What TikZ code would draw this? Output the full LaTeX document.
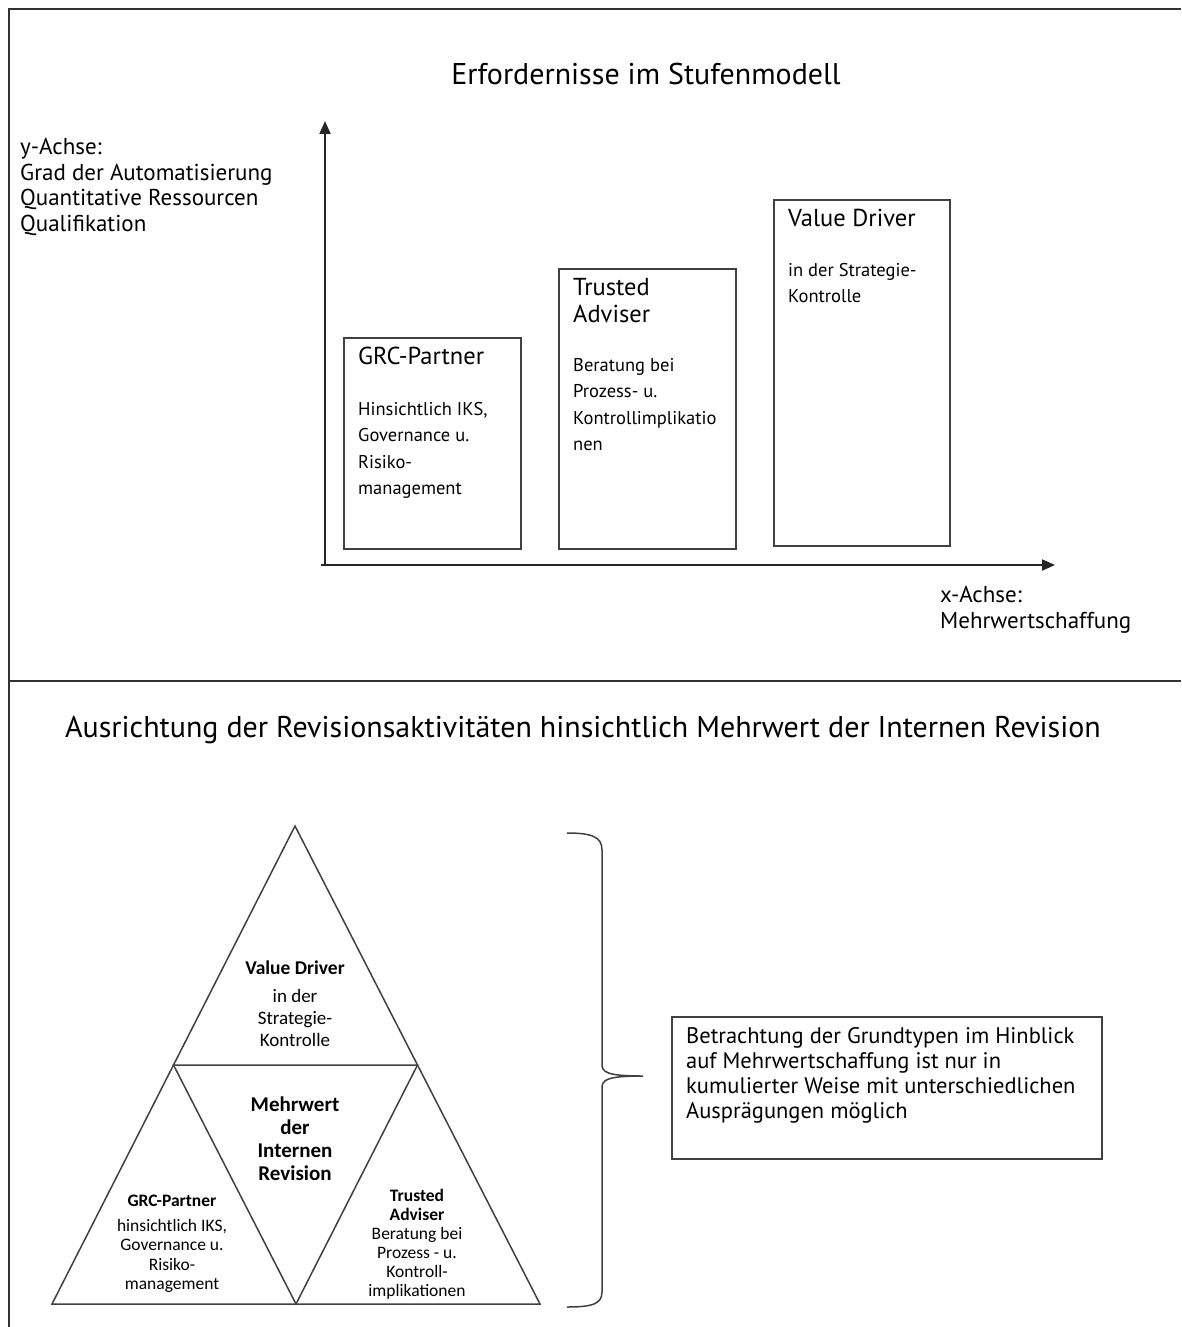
\documentclass[tikz,border=0pt]{standalone}
\usepackage{fontspec}
\setmainfont{PT Sans}
\newfontfamily\trifont{Carlito}
\usetikzlibrary{positioning, arrows, arrows.meta}

\begin{document}
\begin{tikzpicture}[x=1pt, y=-1pt, >={Triangle[length=13pt, width=11pt]},
    frame/.style={draw=black!80, line width=2pt},
    bar/.style={draw=black!75, line width=1.6pt, rectangle, inner sep=0pt, anchor=north west},
    txt/.style={anchor=north west, inner sep=0pt, align=left},
    head/.style={txt, font=\fontsize{24.5}{27}\selectfont},
    body/.style={txt, font=\fontsize{18.5}{26.5}\selectfont},
    tri/.style={draw=black!75, line width=1.5pt, line join=miter},
    tritxt/.style={align=center, inner sep=0pt, anchor=north}
]
    \useasboundingbox (0,0) rectangle (1181,1327);

    % frame
    \draw[frame] (9,1327) -- (9,9) -- (1181,9);
    \draw[frame] (9,681) -- (1181,681);

    % upper part
    \node[font=\fontsize{30}{34}\selectfont] (t1) at (646,74) {Erfordernisse im Stufenmodell};

    \coordinate (o) at (325,565);
    \coordinate (ytip) at (325,121);
    \coordinate (xtip) at (1055,565);
    \draw[->, line width=2pt, black!85] (o) -- (ytip);
    \draw[->, line width=2pt, black!85] (o) ++(-4,0) -- (xtip);

    \node[txt, font=\fontsize{23}{25.5}\selectfont] (ylab) at (20,138)
        {y-Achse:\\Grad der Automatisierung\\Quantitative Ressourcen\\Qualifikation};
    \node[txt, font=\fontsize{23}{26}\selectfont] (xlab) at (940,586)
        {x-Achse:\\Mehrwertschaffung};

    \node[bar, minimum width=177pt, minimum height=211pt] (grc) at (343,337) {};
    \node[bar, minimum width=177pt, minimum height=280pt] (ta) at (558,268) {};
    \node[bar, minimum width=176pt, minimum height=346pt] (vd) at (773,199) {};

    \node[head, below right=10pt and 15pt of grc.north west] (grch) {GRC-Partner};
    \node[body, below right=65pt and 15pt of grc.north west] (grcb)
        {Hinsichtlich IKS,\\Governance u.\\Risiko-\\management};
    \node[head, below right=10pt and 15pt of ta.north west] (tah) {Trusted\\Adviser};
    \node[body, below right=90pt and 15pt of ta.north west] (tab)
        {Beratung bei\\Prozess- u.\\Kontrollimplikatio\\nen};
    \node[head, below right=10pt and 15pt of vd.north west] (vdh) {Value Driver};
    \node[body, below right=64pt and 15pt of vd.north west] (vdb)
        {in der Strategie-\\Kontrolle};

    % lower part
    \node[font=\fontsize{30}{34}\selectfont] (t2) at (583,730)
        {Ausrichtung der Revisionsaktivit\"aten hinsichtlich Mehrwert der Internen Revision};

    \coordinate (top) at (295,826);
    \coordinate (bl) at (52,1304);
    \coordinate (br) at (540,1304);
    \coordinate (ml) at (173.5,1065);
    \coordinate (mr) at (417.5,1065);
    \coordinate (mb) at (296,1304);
    \draw[tri] (top) -- (bl) -- (br) -- cycle;
    \draw[tri] (ml) -- (mr) -- (mb) -- cycle;

    \node[tritxt, font=\trifont\fontsize{19}{22}\selectfont] (vdt) at (295,961)
        {\textbf{\fontsize{19.5}{22}\selectfont Value Driver}\\[6pt]in der\\Strategie-\\Kontrolle};
    \node[tritxt, font=\trifont\bfseries\fontsize{21}{23}\selectfont] (mw) at (295,1097)
        {Mehrwert\\der\\Internen\\Revision};
    \node[tritxt, font=\trifont\fontsize{17.5}{19.5}\selectfont] (grct) at (172,1195)
        {\textbf{GRC-Partner}\\[5pt]hinsichtlich IKS,\\Governance u.\\Risiko-\\management};
    \node[tritxt, font=\trifont\fontsize{17.5}{19}\selectfont] (tat) at (417,1189)
        {\textbf{Trusted}\\\textbf{Adviser}\\Beratung bei\\Prozess - u.\\Kontroll-\\implikationen};

    % brace
    \draw[draw=black!75, line width=1.5pt] (567,833) .. controls (592,833) and (602,837) .. (602,850)
        -- (602,1064) .. controls (602,1072) and (606,1076) .. (643,1076)
        .. controls (606,1076) and (602,1080) .. (602,1088)
        -- (602,1292) .. controls (602,1304) and (592,1307) .. (567,1307);

    \node[bar, minimum width=430pt, minimum height=142pt] (note) at (671,1016) {};
    \node[txt, font=\fontsize{22.5}{25}\selectfont, below right=11pt and 15pt of note.north west] (notet)
        {Betrachtung der Grundtypen im Hinblick\\auf Mehrwertschaffung ist nur in\\kumulierter Weise mit unterschiedlichen\\Auspr\"agungen m\"oglich};
\end{tikzpicture}
\end{document}
